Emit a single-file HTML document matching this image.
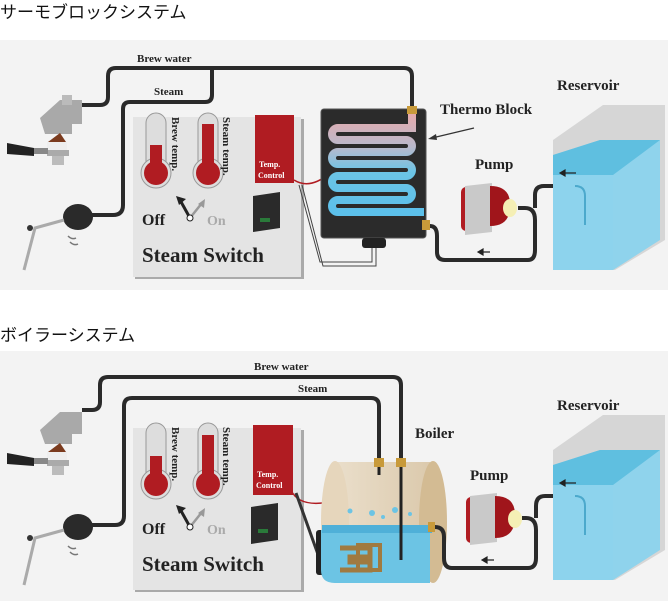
<!DOCTYPE html>
<html><head><meta charset="utf-8"><style>
body{margin:0;background:#fff;width:668px;height:601px;overflow:hidden}
svg{display:block}
.t{font-family:"Liberation Serif",serif;font-weight:bold;fill:#222}
.j{font-family:"Liberation Sans","Noto Sans CJK JP",sans-serif;font-size:17px;fill:#111}
</style></head><body>
<svg width="668" height="601" viewBox="0 0 668 601" xmlns="http://www.w3.org/2000/svg">
<defs>
<linearGradient id="coil" x1="0" y1="0" x2="0" y2="1"><stop offset="0" stop-color="#e8a9a9"/><stop offset="0.35" stop-color="#b9b9cc"/><stop offset="0.6" stop-color="#6cc4e6"/><stop offset="1" stop-color="#5cc0ea"/></linearGradient>
<linearGradient id="boil" x1="0" y1="0" x2="1" y2="0"><stop offset="0" stop-color="#e9dcc6"/><stop offset="1" stop-color="#d9c5a5"/></linearGradient>
</defs>
<text class="j" x="0" y="18">サーモブロックシステム</text>
<text class="j" x="0" y="341">ボイラーシステム</text>
<rect x="0" y="40" width="668" height="250" fill="#f3f3f3"/>
<rect x="0" y="351" width="668" height="250" fill="#f3f3f3"/>

<!-- ============ TOP ============ -->
<g>
<path d="M82 105 H100 Q108 105 108 97 V76 Q108 68 116 68 H404 Q412 68 412 76 V110" fill="none" stroke="#2a2a2a" stroke-width="4"/>
<path d="M212 68 V95 Q212 102 205 102 H130 Q123 102 123 109 V205 Q123 215 113 215 H92" fill="none" stroke="#2a2a2a" stroke-width="4"/>
<text class="t" x="137" y="62" font-size="11">Brew water</text>
<text class="t" x="154" y="95" font-size="11">Steam</text>
<path d="M40 118 L60 100 H82 V124 H72 V134 H45 Z" fill="#a9a9a9"/>
<rect x="62" y="95" width="10" height="10" fill="#bbb"/>
<path d="M48 142 L60 133 L66 142 Z" fill="#7b3b1e"/>
<rect x="47" y="142" width="20" height="8" fill="#eee"/>
<rect x="47" y="150" width="22" height="6" fill="#aaa"/>
<rect x="52" y="156" width="12" height="9" fill="#bbb"/>
<path d="M7 143 L34 148 V156 L7 154 Z" fill="#222"/>
<rect x="34" y="148" width="14" height="6" fill="#888"/>
<ellipse cx="78" cy="217" rx="15" ry="13" fill="#2a2a2a"/>
<path d="M64 220 L35 228 L24 270" fill="none" stroke="#aaa" stroke-width="3"/>
<circle cx="30" cy="228" r="3" fill="#333"/>
<path d="M68 236 q4 4 8 2 M70 242 q4 4 8 2" stroke="#777" fill="none" stroke-width="1.5"/>
<rect x="135" y="119" width="169" height="160" fill="#aaa"/>
<rect x="133" y="117" width="168" height="160" fill="#e4e4e4"/>
<rect x="146" y="113" width="20" height="60" rx="10" fill="#ddd" stroke="#999"/>
<circle cx="156" cy="173" r="15" fill="#ddd" stroke="#999"/>
<circle cx="156" cy="173" r="12" fill="#b01c22"/>
<rect x="150" y="145" width="12" height="25" fill="#b01c22"/>
<rect x="198" y="113" width="20" height="60" rx="10" fill="#ddd" stroke="#999"/>
<circle cx="208" cy="173" r="15" fill="#ddd" stroke="#999"/>
<circle cx="208" cy="173" r="12" fill="#b01c22"/>
<rect x="202" y="124" width="12" height="46" fill="#b01c22"/>
<text class="t" font-size="11" transform="translate(172,117) rotate(90)">Brew temp.</text>
<text class="t" font-size="11" transform="translate(223,117) rotate(90)">Steam temp.</text>
<rect x="255" y="115" width="39" height="68" fill="#b01c22"/>
<text x="259" y="167" font-family="Liberation Serif,serif" font-weight="bold" font-size="8" fill="#fff">Temp.</text>
<text x="258" y="178" font-family="Liberation Serif,serif" font-weight="bold" font-size="8" fill="#fff">Control</text>
<path d="M294 180 Q310 190 330 173" fill="none" stroke="#b01c22" stroke-width="1.5"/>
<circle cx="330" cy="173" r="2.5" fill="#b01c22"/>
<path d="M299 185 L320 262 H372 V245 M302 185 L323 266 H376 V245" fill="none" stroke="#444" stroke-width="1"/>
<text class="t" x="142" y="225" font-size="16">Off</text>
<text class="t" x="207" y="225" font-size="14" style="fill:#aaa">On</text>
<path d="M190 218 L180 200" stroke="#222" stroke-width="3"/><path d="M176 196 l10 3 l-7 6z" fill="#222"/>
<path d="M190 218 L202 203" stroke="#999" stroke-width="2.5"/><path d="M205 199 l-1 9 l-6 -4z" fill="#999"/>
<circle cx="190" cy="218" r="3" fill="#fff" stroke="#222"/>
<path d="M253 196 L280 192 V228 L253 232 Z" fill="#2a2a2a"/>
<rect x="260" y="218" width="10" height="4" fill="#2a7a3a"/>
<text class="t" x="142" y="262" font-size="21">Steam Switch</text>
<rect x="321" y="109" width="105" height="129" rx="3" fill="#2b2b2b" stroke="#555"/>
<rect x="362" y="238" width="24" height="10" rx="3" fill="#222"/>
<path d="M412 112 V128 H338 a6 6 0 0 0 0 12 H406 a6 6 0 0 1 0 12 H338 a6 6 0 0 0 0 12 H406 a6 6 0 0 1 0 12 H338 a6 6 0 0 0 0 12 H406 a6 6 0 0 1 0 12 H338 a6 6 0 0 0 0 12 H424" fill="none" stroke="url(#coil)" stroke-width="8"/>
<rect x="407" y="106" width="10" height="8" fill="#c89a3a"/>
<rect x="422" y="220" width="8" height="10" fill="#c89a3a"/>
<path d="M474 128 L432 138" stroke="#333" stroke-width="1.2"/><path d="M428 139 l8 -5 l1 6z" fill="#333"/>
<text class="t" x="440" y="114" font-size="15">Thermo Block</text>
<path d="M430 226 Q437 226 437 236 V252 Q437 260 445 260 H528 Q535 260 535 250 V220 Q535 208 525 208 H518 M535 208 V195 Q535 186 544 186 H575" fill="none" stroke="#2a2a2a" stroke-width="4"/>
<path d="M478 252 H490 M478 252 l5 -3 v6z" stroke="#222" stroke-width="1.2" fill="#222"/>
<text class="t" x="475" y="169" font-size="15">Pump</text>
<rect x="461" y="187" width="20" height="44" rx="5" fill="#b01c22"/>
<path d="M465 186 L492 183 V232 L465 235 Z" fill="#c9c9c9"/>
<path d="M490 186 Q511 186 510 206 Q510 226 490 226 Z" fill="#a0151b"/>
<ellipse cx="510" cy="208" rx="7" ry="9" fill="#f5efb5"/>
<text class="t" x="557" y="90" font-size="15">Reservoir</text>
<path d="M553 140 L603 105 H665 V240 L615 270 H553 Z" fill="#d6d6d6"/>
<path d="M553 155 L600 140 H660 V240 L613 270 H553 Z" fill="#8fd3ec"/>
<path d="M553 155 L600 140 H660 L613 175 H553 Z" fill="#5fbfe0"/>
<rect x="553" y="175" width="60" height="95" fill="#8cd4ee" opacity="0.6"/>
<path d="M575 186 Q585 186 585 196 V225" fill="none" stroke="#4ca9cc" stroke-width="2"/>
<path d="M560 173 H576 M560 173 l5 -3 v6z" stroke="#222" stroke-width="1.2" fill="#222"/>
</g>

<!-- ============ BOTTOM ============ -->
<g>
<path d="M82 410 H92 Q100 410 100 402 V385 Q100 377 108 377 H393 Q401 377 401 385 V460" fill="none" stroke="#2a2a2a" stroke-width="4"/>
<path d="M92 525 H115 Q124 525 124 516 V406 Q124 398 132 398 H371 Q379 398 379 406 V460" fill="none" stroke="#2a2a2a" stroke-width="4"/>
<text class="t" x="254" y="370" font-size="11">Brew water</text>
<text class="t" x="298" y="392" font-size="11">Steam</text>
<path d="M40 430 L60 412 H82 V434 H72 V444 H45 Z" fill="#a9a9a9"/>
<path d="M48 452 L60 443 L66 452 Z" fill="#7b3b1e"/>
<rect x="47" y="452" width="20" height="8" fill="#eee"/>
<rect x="47" y="460" width="22" height="6" fill="#aaa"/>
<rect x="52" y="466" width="12" height="9" fill="#bbb"/>
<path d="M7 453 L34 458 V466 L7 464 Z" fill="#222"/>
<rect x="34" y="458" width="14" height="6" fill="#888"/>
<ellipse cx="78" cy="527" rx="15" ry="13" fill="#2a2a2a"/>
<path d="M64 530 L35 538 L24 585" fill="none" stroke="#aaa" stroke-width="3"/>
<circle cx="30" cy="538" r="3" fill="#333"/>
<path d="M68 546 q4 4 8 2 M70 552 q4 4 8 2" stroke="#777" fill="none" stroke-width="1.5"/>
<rect x="135" y="430" width="169" height="162" fill="#aaa"/>
<rect x="133" y="428" width="168" height="162" fill="#e4e4e4"/>
<rect x="146" y="423" width="20" height="62" rx="10" fill="#ddd" stroke="#999"/>
<circle cx="156" cy="484" r="15" fill="#ddd" stroke="#999"/>
<circle cx="156" cy="484" r="12" fill="#b01c22"/>
<rect x="150" y="456" width="12" height="25" fill="#b01c22"/>
<rect x="198" y="423" width="20" height="62" rx="10" fill="#ddd" stroke="#999"/>
<circle cx="208" cy="484" r="15" fill="#ddd" stroke="#999"/>
<circle cx="208" cy="484" r="12" fill="#b01c22"/>
<rect x="202" y="435" width="12" height="46" fill="#b01c22"/>
<text class="t" font-size="11" transform="translate(172,427) rotate(90)">Brew temp.</text>
<text class="t" font-size="11" transform="translate(223,427) rotate(90)">Steam temp.</text>
<rect x="253" y="425" width="40" height="70" fill="#b01c22"/>
<text x="257" y="477" font-family="Liberation Serif,serif" font-weight="bold" font-size="8" fill="#fff">Temp.</text>
<text x="256" y="488" font-family="Liberation Serif,serif" font-weight="bold" font-size="8" fill="#fff">Control</text>
<path d="M291 490 Q300 510 338 500" fill="none" stroke="#b01c22" stroke-width="1.5"/>
<circle cx="338" cy="500" r="2.5" fill="#b01c22"/>
<path d="M296 493 L320 560" stroke="#333" stroke-width="3"/>
<text class="t" x="142" y="534" font-size="16">Off</text>
<text class="t" x="207" y="534" font-size="14" style="fill:#aaa">On</text>
<path d="M190 527 L180 509" stroke="#222" stroke-width="3"/><path d="M176 505 l10 3 l-7 6z" fill="#222"/>
<path d="M190 527 L202 512" stroke="#999" stroke-width="2.5"/><path d="M205 508 l-1 9 l-6 -4z" fill="#999"/>
<circle cx="190" cy="527" r="3" fill="#fff" stroke="#222"/>
<path d="M251 507 L278 503 V540 L251 544 Z" fill="#2a2a2a"/>
<rect x="258" y="529" width="10" height="4" fill="#2a7a3a"/>
<text class="t" x="142" y="571" font-size="21">Steam Switch</text>
<rect x="316" y="530" width="12" height="45" rx="3" fill="#222"/>
<path d="M335 462 H430 V583 H335 Z" fill="url(#boil)" opacity="0.9"/>
<ellipse cx="433" cy="522" rx="14" ry="61" fill="#d3bb93"/>
<ellipse cx="335" cy="522" rx="14" ry="61" fill="#e6d6bc"/>
<path d="M321 570 V530 H430 V583 H335 Q321 583 321 570 Z" fill="#6cc4e4"/>
<rect x="322" y="525" width="110" height="8" fill="#4fb0d8"/>
<circle cx="350" cy="511" r="2.5" fill="#6cc4e4"/><circle cx="372" cy="513" r="3" fill="#6cc4e4"/><circle cx="395" cy="510" r="3" fill="#6cc4e4"/><circle cx="410" cy="514" r="2" fill="#6cc4e4"/><circle cx="383" cy="517" r="2" fill="#6cc4e4"/>
<path d="M340 548 H370 V557 H350 V562 H370 V570 H340" fill="none" stroke="#a07a40" stroke-width="5"/>
<path d="M358 545 H380 V570 H358 Z" fill="none" stroke="#a07a40" stroke-width="4"/>
<path d="M379 460 V475 M401 460 V560" stroke="#222" stroke-width="3"/>
<rect x="374" y="458" width="10" height="9" fill="#c89a3a"/>
<rect x="396" y="458" width="10" height="9" fill="#c89a3a"/>
<rect x="428" y="522" width="7" height="10" fill="#c89a3a"/>
<text class="t" x="415" y="438" font-size="15">Boiler</text>
<path d="M435 527 Q444 527 444 537 V558 Q444 568 452 568 H528 Q536 568 536 558 V530 Q536 518 526 518 H522 M536 518 V506 Q536 496 545 496 H575" fill="none" stroke="#2a2a2a" stroke-width="4"/>
<path d="M482 560 H494 M482 560 l5 -3 v6z" stroke="#222" stroke-width="1.2" fill="#222"/>
<text class="t" x="470" y="480" font-size="15">Pump</text>
<rect x="466" y="497" width="20" height="46" rx="5" fill="#b01c22"/>
<path d="M470 496 L497 493 V542 L470 545 Z" fill="#c9c9c9"/>
<path d="M495 496 Q516 496 515 517 Q515 538 495 538 Z" fill="#a0151b"/>
<ellipse cx="515" cy="519" rx="7" ry="9" fill="#f5efb5"/>
<text class="t" x="557" y="410" font-size="15">Reservoir</text>
<path d="M553 450 L603 415 H665 V550 L615 580 H553 Z" fill="#d6d6d6"/>
<path d="M553 465 L600 450 H660 V550 L613 580 H553 Z" fill="#8fd3ec"/>
<path d="M553 465 L600 450 H660 L613 485 H553 Z" fill="#5fbfe0"/>
<rect x="553" y="485" width="60" height="95" fill="#8cd4ee" opacity="0.6"/>
<path d="M575 496 Q585 496 585 506 V535" fill="none" stroke="#4ca9cc" stroke-width="2"/>
<path d="M560 483 H576 M560 483 l5 -3 v6z" stroke="#222" stroke-width="1.2" fill="#222"/>
</g>
</svg>
</body></html>
